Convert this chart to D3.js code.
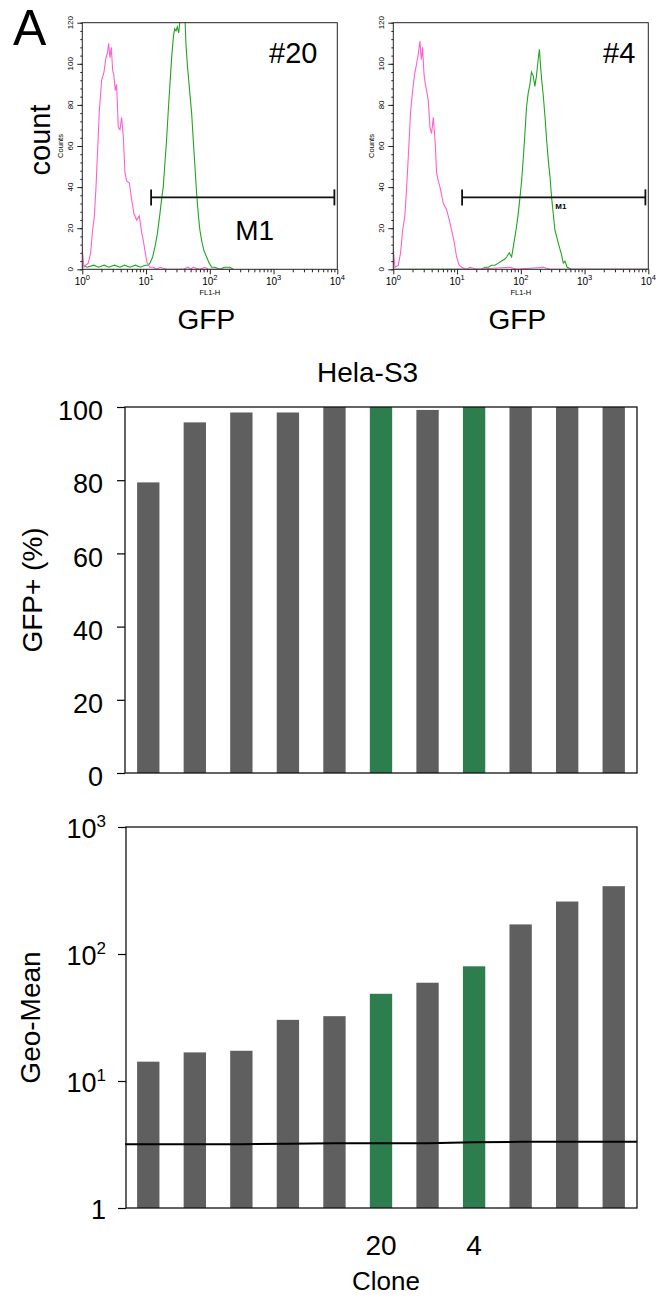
<!DOCTYPE html>
<html>
<head>
<meta charset="utf-8">
<script src="https://cdn.jsdelivr.net/npm/d3@7"></script>
<style>
  body { margin: 0; background: #fff; }
  text { font-family: "Liberation Sans", Arial, Helvetica, sans-serif; fill: #000; }
</style>
</head>
<body>
<script>
// flow histograms: [FL1-H, counts]
var pink20 = [[1.00,10],[1.06,1],[1.14,2],[1.24,3],[1.35,8],[1.45,19],[1.54,25],[1.64,40],[1.74,58],[1.85,77],[2.01,92],[2.19,96],[2.35,103],[2.47,105],[2.59,110],[2.72,103],[2.85,108],[2.99,97],[3.14,94],[3.29,87],[3.45,90],[3.67,69],[3.90,68],[4.14,74],[4.39,65],[4.67,47],[4.96,43],[5.47,42],[5.94,34],[6.47,27],[7.11,24],[7.83,26],[8.53,18],[9.05,14],[9.73,8],[10.4,3],[11.5,1],[13.0,1],[14.6,0],[16.5,1],[21.0,0],[38.4,0],[46,1],[50,0],[55,1],[70,0],[84,1],[95,0],[113,0],[233,0]];
var green20 = [[1.0,2],[1.2,1],[1.5,2],[1.8,1],[2.2,2],[2.6,1],[3.2,2],[3.9,1],[4.6,2],[5.6,1],[6.8,2],[8.2,1],[9.6,2],[10.8,2],[11.5,3],[12.7,6],[13.8,11],[15.0,17],[16.5,27],[17.5,34],[18.6,40],[19.8,52],[21.0,63],[22.3,77],[23.7,90],[25.2,103],[26.8,113],[28.1,117],[29.5,116],[30.9,118],[32.5,115],[34.1,121],[36.2,125],[38.4,121],[40.7,123],[42.2,110],[44.3,100],[47.6,89],[51.9,76],[55.0,63],[58.5,50],[62.1,37],[65.9,27],[70.0,19],[74.4,14],[81.0,9],[89.0,6],[98.0,3],[107,1],[120,1],[144,0],[170,1],[207,1],[233,0]];
var pink4 = [[1.00,10],[1.06,1],[1.20,2],[1.30,8],[1.40,19],[1.52,26],[1.62,40],[1.74,58],[1.87,77],[2.01,87],[2.16,95],[2.32,100],[2.47,105],[2.62,111],[2.75,102],[2.88,108],[3.03,95],[3.18,90],[3.33,87],[3.54,82],[3.76,69],[3.99,66],[4.24,74],[4.51,63],[4.78,47],[5.08,43],[5.40,40],[6.09,32],[6.86,29],[7.54,24],[8.22,19],[8.93,14],[9.84,6],[10.8,2],[11.8,1],[14.1,0],[15.9,1],[20.2,0],[67.5,1],[86,0],[226,1],[287,0],[10000,0]];
var green4 = [[1.0,0],[24.3,0],[27.4,1],[31,1],[34.8,2],[39.3,2],[44.3,3],[50.0,4],[56.4,5],[59.8,6],[65.9,8],[71.8,6],[78.2,13],[84.0,19],[90.3,26],[97.1,35],[103,43],[110,55],[116,66],[123,79],[131,86],[139,90],[147,96],[157,94],[166,89],[176,94],[187,102],[196,107],[204,99],[213,92],[226,84],[240,74],[254,63],[270,53],[287,45],[304,35],[323,27],[343,19],[364,16],[401,11],[436,7],[464,3],[493,4],[533,1],[627,0],[10000,0]];
var gateM1 = [12, 9000, 35];   // from, to, drawn at count
var countTicks = [0, 20, 40, 60, 80, 100, 120];
var decades = [1, 10, 100, 1000, 10000];

// bar charts
var cloneLabels = ["", "", "", "", "", "20", "", "4", "", "", ""];
var gfpPct = [79.4, 95.8, 98.5, 98.5, 100, 100, 99.2, 100, 100, 100, 100];
var geoMean = [14.2, 16.8, 17.3, 30.3, 32.4, 48.6, 59.4, 80, 171, 259, 342];
var bgMean = [3.18, 3.18, 3.18, 3.2, 3.24, 3.24, 3.24, 3.3, 3.32, 3.32, 3.32];
var pctTicks = [0, 20, 40, 60, 80, 100];
var logTicks = [1, 10, 100, 1000];

var gray = "#5f5f5f", green = "#2e7d4f";

var svg = d3.select("body").append("svg")
  .attr("width", 665).attr("height", 1298);

svg.append("text").attr("x", 13).attr("y", 45)
  .style("font-size", "50px").text("A");

// one histogram panel
function drawHist(left, id, pink, grn, tag, tagX, bigM1) {
  var x = d3.scaleLog().domain([1, 10000]).range([left, left + 255]);
  var y = d3.scaleLinear().domain([0, 120]).range([269.3, 22.7]);
  var g = svg.append("g");

  g.append("clipPath").attr("id", id).append("rect")
    .attr("x", x.range()[0]).attr("y", y(120))
    .attr("width", 255).attr("height", y(0) - y(120));

  // minor / major ticks
  var minor = x.ticks().filter(function (v) { return decades.indexOf(v) < 0; });
  g.append("g").attr("transform", "translate(0," + y(0) + ")")
    .call(d3.axisBottom(x).tickValues(minor).tickSize(3).tickFormat(""))
    .call(function (a) { a.select(".domain").remove(); });
  g.append("g").attr("transform", "translate(0," + y(0) + ")")
    .call(d3.axisBottom(x).tickValues(decades).tickSize(5).tickFormat(""))
    .call(function (a) { a.select(".domain").remove(); });
  g.append("g").attr("transform", "translate(" + left + ",0)")
    .call(d3.axisLeft(y).tickValues(d3.range(0, 121, 4)).tickSize(2).tickFormat(""))
    .call(function (a) { a.select(".domain").remove(); });
  g.append("g").attr("transform", "translate(" + left + ",0)")
    .call(d3.axisLeft(y).tickValues(countTicks).tickSize(5).tickFormat(""))
    .call(function (a) { a.select(".domain").remove(); });
  g.selectAll(".tick line").attr("stroke", "#222");

  // labels
  countTicks.forEach(function (v) {
    g.append("text")
      .attr("transform", "translate(" + (left - 9) + "," + y(v) + ") rotate(-90)")
      .attr("text-anchor", "middle").style("font-size", "8px").text(v);
  });
  decades.forEach(function (v, i) {
    var t = g.append("text").attr("x", x(v)).attr("y", 285)
      .attr("text-anchor", "middle").style("font-size", "10px");
    t.append("tspan").text("10");
    t.append("tspan").attr("dy", -5).style("font-size", "7.5px").text(i);
  });
  g.append("text").attr("x", x(100)).attr("y", 295).attr("text-anchor", "middle")
    .style("font-size", "7.5px").text("FL1-H");
  g.append("text")
    .attr("transform", "translate(" + (left - 19) + "," + y(60) + ") rotate(-90)")
    .attr("text-anchor", "middle").style("font-size", "7.5px").text("Counts");

  var line = d3.line()
    .x(function (d) { return x(d[0]); })
    .y(function (d) { return y(d[1]); });
  g.append("path").datum(grn).attr("d", line).attr("fill", "none")
    .attr("stroke", "#1fa51f").attr("stroke-width", 1.1).attr("clip-path", "url(#" + id + ")");
  g.append("path").datum(pink).attr("d", line).attr("fill", "none")
    .attr("stroke", "#ff5fcf").attr("stroke-width", 1.1).attr("clip-path", "url(#" + id + ")");

  g.append("rect").attr("x", left).attr("y", y(120))
    .attr("width", 255).attr("height", y(0) - y(120))
    .attr("fill", "none").attr("stroke", "#222").attr("stroke-width", 1);

  // M1 gate
  var gy = y(gateM1[2]);
  g.append("line").attr("x1", x(gateM1[0])).attr("x2", x(gateM1[1]))
    .attr("y1", gy).attr("y2", gy).attr("stroke", "#111").attr("stroke-width", 1.8);
  [gateM1[0], gateM1[1]].forEach(function (v) {
    g.append("line").attr("x1", x(v)).attr("x2", x(v))
      .attr("y1", gy - 8).attr("y2", gy + 8).attr("stroke", "#111").attr("stroke-width", 1.8);
  });
  if (bigM1) {
    g.append("text").attr("x", left + 153).attr("y", 240)
      .style("font-size", "28px").text("M1");
  } else {
    g.append("text").attr("x", left + 162).attr("y", 208.5)
      .style("font-size", "8px").style("font-weight", "bold").text("M1");
  }

  g.append("text").attr("x", tagX).attr("y", 63)
    .style("font-size", "29px").text(tag);
  g.append("text").attr("x", left + 124).attr("y", 329)
    .attr("text-anchor", "middle").style("font-size", "28px").text("GFP");
}

drawHist(82.3, "clipA", pink20, green20, "#20", 269, true);
drawHist(393.3, "clipB", pink4, green4, "#4", 603, false);

svg.append("text")
  .attr("transform", "translate(50,140) rotate(-90)")
  .attr("text-anchor", "middle").style("font-size", "29px").text("count");

// shared clone scale
var xb = d3.scaleBand().domain(d3.range(cloneLabels.length))
  .range([125, 637]).paddingInner(0.52).paddingOuter(0.26);

// GFP+ (%) chart
var yPct = d3.scaleLinear().domain([0, 100]).range([773, 407]);
svg.append("text").attr("x", 317).attr("y", 382)
  .style("font-size", "28px").text("Hela-S3");

svg.append("g").selectAll("rect").data(gfpPct).enter().append("rect")
  .attr("x", function (d, i) { return xb(i); })
  .attr("width", xb.bandwidth())
  .attr("y", function (d) { return yPct(d); })
  .attr("height", function (d) { return yPct(0) - yPct(d); })
  .attr("fill", function (d, i) { return cloneLabels[i] ? green : gray; });

var ay = svg.append("g").attr("transform", "translate(125,0)")
  .call(d3.axisLeft(yPct).tickValues(pctTicks).tickSize(8).tickPadding(14));
ay.select(".domain").remove();
ay.selectAll("text").attr("dy", "0.47em").style("font-size", "27px")
  .style("font-family", '"Liberation Sans", Arial, sans-serif');
ay.selectAll(".tick line").attr("stroke-width", 1.2);

svg.append("rect").attr("x", 125).attr("y", 407).attr("width", 512).attr("height", 366)
  .attr("fill", "none").attr("stroke", "#111").attr("stroke-width", 1.3);

svg.append("text")
  .attr("transform", "translate(42," + (407 + 773) / 2 + ") rotate(-90)")
  .attr("text-anchor", "middle").style("font-size", "28px").text("GFP+ (%)");

// Geo-Mean chart
var yLog = d3.scaleLog().domain([1, 1000]).range([1208, 827]);

svg.append("g").selectAll("rect").data(geoMean).enter().append("rect")
  .attr("x", function (d, i) { return xb(i); })
  .attr("width", xb.bandwidth())
  .attr("y", function (d) { return yLog(d); })
  .attr("height", function (d) { return yLog(1) - yLog(d); })
  .attr("fill", function (d, i) { return cloneLabels[i] ? green : gray; });

var bgPts = [[xb.range()[0], bgMean[0]]]
  .concat(bgMean.map(function (v, i) { return [xb(i) + xb.bandwidth() / 2, v]; }))
  .concat([[xb.range()[1], bgMean[bgMean.length - 1]]]);
svg.append("path").datum(bgPts)
  .attr("d", d3.line().x(function (d) { return d[0]; }).y(function (d) { return yLog(d[1]); }))
  .attr("fill", "none").attr("stroke", "#000").attr("stroke-width", 2);

var al = svg.append("g").attr("transform", "translate(126,0)")
  .call(d3.axisLeft(yLog).tickValues(logTicks).tickSize(8).tickFormat(""));
al.select(".domain").remove();
al.selectAll(".tick line").attr("stroke-width", 1.2);
logTicks.forEach(function (v, i) {
  var t = svg.append("text").attr("x", 106).attr("y", yLog(v) + 11)
    .attr("text-anchor", "end").style("font-size", "27px");
  if (i === 0) { t.text("1"); return; }
  t.append("tspan").text("10");
  t.append("tspan").attr("dy", -11).style("font-size", "17px").text(i);
});

svg.append("rect").attr("x", 126).attr("y", 827).attr("width", 511).attr("height", 381)
  .attr("fill", "none").attr("stroke", "#111").attr("stroke-width", 1.3);

svg.append("text")
  .attr("transform", "translate(40," + (827 + 1208) / 2 + ") rotate(-90)")
  .attr("text-anchor", "middle").style("font-size", "28px").text("Geo-Mean");

svg.append("g").selectAll("text").data(cloneLabels).enter().append("text")
  .attr("x", function (d, i) { return xb(i) + xb.bandwidth() / 2; })
  .attr("y", 1255).attr("text-anchor", "middle").style("font-size", "28px")
  .text(function (d) { return d; });

svg.append("text").attr("x", 352).attr("y", 1290)
  .style("font-size", "26px").text("Clone");
</script>
</body>
</html>
